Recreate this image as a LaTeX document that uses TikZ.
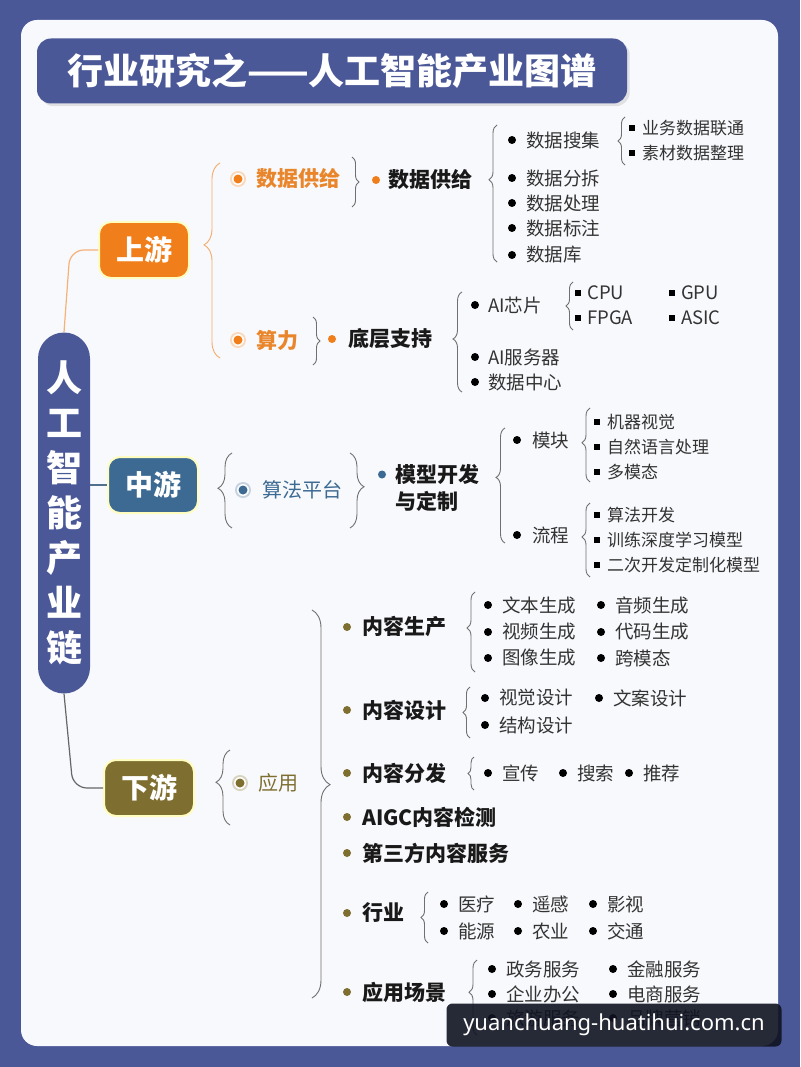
\documentclass[tikz,border=0pt]{standalone}
\usepackage{fontspec}
\setmainfont{Noto Sans CJK SC}
\newfontfamily\wmfont{Noto Sans}
\usetikzlibrary{decorations.pathreplacing,shadows}

\definecolor{bgblue}{HTML}{4B5897}
\definecolor{panel}{HTML}{F8F9FC}
\definecolor{upor}{HTML}{F07E1B}
\definecolor{uptxt}{HTML}{E9852A}
\definecolor{midbl}{HTML}{3C6A93}
\definecolor{dnol}{HTML}{7E6E30}
\definecolor{itemgray}{HTML}{333333}
\definecolor{bracegray}{HTML}{707070}

\newcommand{\ringdot}[2]{%
  \fill[#1!30!white] (#2) circle (8pt);
  \fill[white] (#2) circle (6pt);
  \fill[#1] (#2) circle (4.5pt);}

\tikzset{
  stage/.style={rounded corners=12pt, minimum width=90pt, minimum height=56pt,
    text=white, font=\fontsize{28}{30}\selectfont\bfseries,
    draw=yellow!25!white, line width=2pt},
  head/.style={anchor=west, inner sep=0pt, font=\fontsize{21}{27}\selectfont\bfseries, text=black!90},
  itm/.style={anchor=west, inner sep=0pt, font=\fontsize{18.5}{20}\selectfont, text=itemgray},
  sub/.style={anchor=west, inner sep=0pt, font=\fontsize{17}{19}\selectfont, text=itemgray},
  brc/.style={decorate, decoration={brace, amplitude=#1}, draw=bracegray, line width=0.9pt},
  brc/.default=7pt,
}

\begin{document}
\begin{tikzpicture}[x=1pt,y=-1pt]
\useasboundingbox (0,0) rectangle (800,1067);
\fill[bgblue] (0,0) rectangle (800,1067);
\fill[panel, rounded corners=16pt] (21,20) rectangle (778,1046);

% title and chain
\node[fill=bgblue, rounded corners=14pt, minimum width=590pt, minimum height=65pt,
  text=white, font=\fontsize{36}{38}\selectfont\bfseries, drop shadow={opacity=0.2}] (title) at (332,71) {行业研究之——人工智能产业图谱};
\node[fill=bgblue, rounded corners=26pt, minimum width=52pt, minimum height=361pt, inner sep=0pt,
  text=white, font=\fontsize{36}{45}\selectfont\bfseries, align=center] (pill) at (64,513) {人\\工\\智\\能\\产\\业\\链};

\node[stage, fill=upor] (up) at (144,250) {上游};
\node[stage, fill=midbl] (mid) at (153,485) {中游};
\node[stage, fill=dnol] (down) at (149,788) {下游};

\draw[upor!60!white, line width=1.2pt, rounded corners=14pt] (pill.north) -- ([xshift=-28pt]up.west) -- (up.west);
\draw[midbl!70!gray, line width=1.2pt] (mid.west -| pill.east) -- (mid.west);
\draw[black!60, line width=1.2pt, rounded corners=14pt] (pill.south) -- ([xshift=-30pt]down.west) -- (down.west);

% upstream
\draw[brc=16pt, draw=upor!65!white, decoration={aspect=0.58}] (220,358) -- (220,163);
\node[head, text=uptxt] (supply) at (256,179) {数据供给};
\ringdot{upor}{[xshift=-18pt]supply.west}
\node[head, text=uptxt] (power) at (256,340) {算力};
\ringdot{upor}{[xshift=-18pt]power.west}
\draw[brc] (352,157) -- (352,207);
\draw[brc] (313,317) -- (313,365);
\node[head] (supply2) at (388,180) {数据供给};
\fill[upor] ([xshift=-12pt]supply2.west) circle (4pt);
\node[head] (base) at (348,339) {底层支持};
\fill[upor] ([xshift=-16pt]base.west) circle (4pt);

\draw[brc=8pt, decoration={aspect=0.6}] (497,262) -- (497,125);
\foreach \nm/\lbl/\yy in {d1/数据搜集/140, d2/数据分拆/178, d3/数据处理/203, d4/数据标注/228, d5/数据库/255}{
  \node[itm] (\nm) at (526,\yy) {\lbl};
  \fill ([xshift=-14pt]\nm.west) circle (4pt);
}
\draw[brc] (625,165) -- (625,117);
\foreach \nm/\lbl/\yy in {s1/业务数据联通/128, s2/素材数据整理/153}{
  \node[sub] (\nm) at (642,\yy) {\lbl};
  \fill ([xshift=-10pt]\nm.west) ++(-3pt,-3pt) rectangle ++(6pt,6pt);
}

\draw[brc=9pt, decoration={aspect=0.53}] (462,392) -- (462,292);
\foreach \nm/\lbl/\yy in {b1/AI芯片/305, b2/AI服务器/357, b3/数据中心/382}{
  \node[itm] (\nm) at (488,\yy) {\lbl};
  \fill ([xshift=-13pt]\nm.west) circle (4pt);
}
\draw[brc] (573,330) -- (573,282);
\foreach \nm/\lbl/\xx/\yy in {c1/CPU/587/293, c2/FPGA/587/318, c3/GPU/681/293, c4/ASIC/681/318}{
  \node[itm] (\nm) at (\xx,\yy) {\lbl};
  \fill ([xshift=-9pt]\nm.west) ++(-3pt,-3pt) rectangle ++(6pt,6pt);
}

% midstream
\draw[brc=14pt, decoration={aspect=0.53}] (232,528) -- (232,453);
\node[head, font=\fontsize{20}{22}\selectfont, text=midbl] (algo) at (262,490) {算法平台};
\ringdot{midbl}{[xshift=-19pt]algo.west}
\draw[brc=14pt, decoration={aspect=0.45}] (350,453) -- (350,528);
\node[head, align=left] (model) at (395,488) {模型开发\\与定制};
\fill[midbl] ([xshift=-13pt, yshift=13.5pt]model.west) circle (4pt);

\draw[brc=9pt, decoration={aspect=0.57}] (505,543) -- (505,428);
\foreach \nm/\lbl/\yy in {m1/模块/440, m2/流程/535}{
  \node[itm] (\nm) at (532,\yy) {\lbl};
  \fill ([xshift=-15pt]\nm.west) circle (4pt);
}
\draw[brc=8pt, decoration={aspect=0.53}] (590,482) -- (590,408);
\draw[brc=8pt, decoration={aspect=0.54}] (590,577) -- (590,503);
\foreach \nm/\lbl/\yy in {k1/机器视觉/422, k2/自然语言处理/447, k3/多模态/472, f1/算法开发/515, f2/训练深度学习模型/540, f3/二次开发定制化模型/565}{
  \node[sub] (\nm) at (607,\yy) {\lbl};
  \fill ([xshift=-10pt]\nm.west) ++(-3pt,-3pt) rectangle ++(6pt,6pt);
}

% downstream
\draw[brc=14pt, decoration={aspect=0.57}] (230,825) -- (230,750);
\node[head, font=\fontsize{20}{22}\selectfont, text=dnol] (app) at (258,783) {应用};
\ringdot{dnol}{[xshift=-18pt]app.west}
\draw[brc=18pt, decoration={aspect=0.45}] (312,610) -- (312,998);
\foreach \nm/\lbl/\yy in {p1/内容生产/627, p2/内容设计/710, p3/内容分发/773, p4/AIGC内容检测/817, p5/第三方内容服务/853, p6/行业/913, p7/应用场景/992}{
  \node[head] (\nm) at (362,\yy) {\lbl};
  \fill[dnol] ([xshift=-15pt]\nm.west) circle (4pt);
}

\draw[brc=8pt, decoration={aspect=0.55}] (475,672) -- (475,592);
\draw[brc] (470,738) -- (470,687);
\draw[brc=6pt] (474,790) -- (474,757);
\draw[brc] (428,943) -- (428,892);
\draw[brc=8pt, decoration={aspect=0.57}] (477,1035) -- (477,960);
\foreach \nm/\lbl/\xx/\yy in {
  g1/文本生成/502/605, g2/视频生成/502/632, g3/图像生成/502/658,
  g4/音频生成/615/605, g5/代码生成/615/632, g6/跨模态/615/658,
  h1/视觉设计/499/698, h2/结构设计/499/725, h3/文案设计/613/698,
  r1/宣传/502/773, r2/搜索/577/773, r3/推荐/643/773,
  i1/医疗/458/904, i2/能源/458/931, i3/遥感/532/904, i4/农业/532/931, i5/影视/607/904, i6/交通/607/931,
  a1/政务服务/506/969, a2/企业办公/506/994, a3/旅游服务/506/1018,
  a4/金融服务/627/969, a5/电商服务/627/994, a6/品牌营销/627/1018}{
  \node[itm] (\nm) at (\xx,\yy) {\lbl};
  \fill ([xshift=-14pt]\nm.west) circle (4pt);
}

% watermark
\node[fill=black!78!bgblue, fill opacity=0.9, text opacity=1, rounded corners=6pt,
  minimum width=335pt, minimum height=43pt, text=white,
  font=\wmfont\fontsize{22}{24}\selectfont] (wm) at (614,1025) {yuanchuang-huatihui.com.cn};
\end{tikzpicture}
\end{document}
